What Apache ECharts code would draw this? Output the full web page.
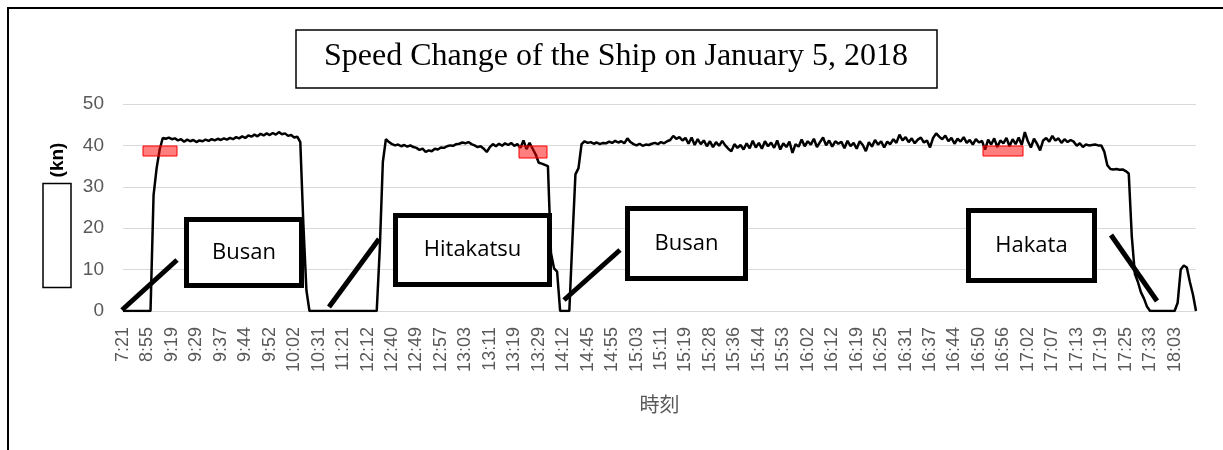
<!DOCTYPE html>
<html>
<head>
<meta charset="utf-8">
<script src="https://cdn.jsdelivr.net/npm/echarts@6/dist/echarts.min.js"></script>
<style>
  html, body { margin: 0; padding: 0; background: #fff; }
  #chart { width: 1223px; height: 450px; }
</style>
</head>
<body>
<div id="chart"></div>
<script>
// tick labels shown on the time axis (one every 8 samples)
const tickLabels = [
  "7:21", "8:55", "9:19", "9:29", "9:37", "9:44", "9:52", "10:02",
  "10:31", "11:21", "12:12", "12:40", "12:49", "12:57", "13:03", "13:11",
  "13:19", "13:29", "14:12", "14:45", "14:55", "15:03", "15:11", "15:19",
  "15:28", "15:36", "15:44", "15:53", "16:02", "16:12", "16:19", "16:25",
  "16:31", "16:37", "16:44", "16:50", "16:56", "17:02", "17:07", "17:13",
  "17:19", "17:25", "17:33", "18:03"
];

// ship speed (kn), 8 samples per tick label
const speed = [
  0, 0, 0, 0, 0, 0, 0, 0,
  0, 0, 28, 34.5, 39, 41.8, 41.6, 41.9,
  41.5, 41.7, 41.2, 41.5, 40.9, 41.4, 41.0, 41.3,
  40.8, 41.2, 41.0, 41.4, 41.1, 41.5, 41.2, 41.6,
  41.3, 41.7, 41.4, 41.8, 41.5, 42.0, 41.7, 42.2,
  41.8, 42.4, 42.1, 42.6, 42.2, 42.8, 42.4, 42.9,
  42.5, 43.0, 42.6, 43.2, 42.7, 42.9, 42.3, 42.5,
  41.9, 42.1, 40.8, 21, 5, 0, 0, 0,
  0, 0, 0, 0, 0, 0, 0, 0,
  0, 0, 0, 0, 0, 0, 0, 0,
  0, 0, 0, 0, 15, 36, 41.5, 40.8,
  40.3, 40.0, 40.2, 39.8, 40.1, 39.7, 40.0, 39.6,
  39.4, 38.9, 39.2, 38.4, 38.8, 38.6, 39.2, 39.0,
  39.5, 39.4, 39.8, 40.0, 39.9, 40.3, 40.4, 40.7,
  40.5, 40.8, 40.3, 40.0, 39.6, 39.8, 39.2, 38.4,
  39.6, 40.3, 39.8, 40.4, 39.9, 40.5, 40.1, 40.6,
  39.9, 40.3, 39.4, 41.2, 39.1, 40.6, 39.2, 37.8,
  35.8, 35.6, 35.3, 35.0, 14, 10.3, 9.5, 0,
  0, 0, 0, 17, 33, 34.5, 40.3, 41.0,
  40.6, 40.8, 40.4, 40.7, 40.3, 40.6, 40.5, 40.9,
  40.6, 41.1, 40.7, 41.0, 40.5, 41.7, 40.8, 40.3,
  40.0, 40.4, 39.9, 40.2, 40.1, 40.4, 40.6, 40.3,
  40.8, 40.5, 41.0, 41.3, 42.3, 41.6, 42.0, 41.2,
  41.8, 40.4, 41.9, 40.1, 41.5, 40.3, 41.2, 39.8,
  41.0, 39.6, 40.8, 39.9, 41.1, 40.0, 39.2, 38.6,
  40.3, 39.4, 40.1, 39.0, 40.5, 39.3, 41.1, 39.5,
  40.6, 39.2, 41.0, 39.8, 40.7, 39.4, 41.2, 39.0,
  40.5, 39.6, 40.9, 38.2, 40.3, 39.7, 41.4, 39.8,
  41.0, 40.2, 41.6, 39.6, 40.8, 41.9, 40.0, 41.2,
  39.7, 41.0, 40.4, 40.9, 39.3, 41.1, 39.8, 40.6,
  39.2, 41.0, 40.1, 38.6, 40.8, 39.7, 41.3, 40.2,
  41.0, 39.5, 40.9, 40.3, 41.5, 40.6, 42.6, 41.2,
  42.0, 40.8, 41.7, 40.5, 41.4, 41.9, 40.7, 41.2,
  39.5, 41.8, 42.9, 42.1, 41.5, 42.4, 41.0, 41.8,
  40.4, 41.6, 40.9, 42.0, 40.6, 41.3, 40.2, 41.5,
  40.7, 41.1, 39.0, 41.4, 40.2, 41.7, 39.6, 41.2,
  40.5, 41.8, 39.8, 41.5, 40.3, 41.9, 40.1, 43.2,
  41.0, 39.5, 41.6, 40.4, 38.8, 41.2, 41.8, 40.9,
  42.3, 41.2, 41.7, 40.6, 41.5, 40.8, 41.3, 40.9,
  39.9, 40.5, 39.6, 40.2, 40.0, 40.1, 40.2, 40.0,
  40.0, 38.5, 35.2, 34.3, 34.2, 34.3, 34.1, 34.2,
  33.8, 33.2, 18, 9, 7, 4.5, 3, 1,
  0, 0, 0, 0, 0, 0, 0, 0,
  0, 2, 10, 11, 10.5, 7, 4, 0
];

const perTick = 8;
const categories = speed.map((v, i) => (i % perTick === 0 ? tickLabels[i / perTick] : ""));

const title = "Speed Change of the Ship on January 5, 2018";
const yName = "(kn)";
const xName = "時刻";

const chart = echarts.init(document.getElementById("chart"));

function labelBox(x, y, w, h, text) {
  return [
    {
      type: "rect",
      shape: { x: x, y: y, width: w, height: h },
      style: { fill: "#fff", stroke: "#000", lineWidth: 5 },
      z: 50
    },
    {
      type: "text",
      x: x + w / 2,
      y: y + h / 2,
      style: {
        text: text,
        font: '22px "Open Sans", sans-serif',
        fill: "#000",
        align: "center",
        verticalAlign: "middle"
      },
      z: 51
    }
  ];
}

function callout(x1, y1, x2, y2) {
  return {
    type: "line",
    shape: { x1: x1, y1: y1, x2: x2, y2: y2 },
    style: { stroke: "#000", lineWidth: 5 },
    z: 52
  };
}

function redMark(x, y, w, h) {
  return {
    type: "rect",
    shape: { x: x, y: y, width: w, height: h },
    style: { fill: "rgba(255,0,0,0.5)", stroke: "#ff0000", lineWidth: 1 },
    z: 60
  };
}

const option = {
  animation: false,
  backgroundColor: "#fff",
  grid: {
    left: 123,
    right: 27,
    top: 104,
    bottom: 139,
    containLabel: false,
    outerBoundsMode: "none"
  },
  xAxis: {
    type: "category",
    data: categories,
    boundaryGap: false,
    name: xName,
    nameLocation: "middle",
    nameGap: 83,
    nameTextStyle: {
      fontSize: 20,
      color: "#595959",
      fontFamily: '"Noto Sans CJK JP", sans-serif'
    },
    axisLine: { lineStyle: { color: "#d9d9d9", width: 1 } },
    axisTick: { show: false },
    axisLabel: {
      interval: perTick - 1,
      rotate: 90,
      margin: 16,
      fontSize: 18,
      color: "#595959",
      fontFamily: '"Liberation Sans", Arial, sans-serif'
    },
    splitLine: { show: false }
  },
  yAxis: {
    type: "value",
    min: 0,
    max: 50,
    interval: 10,
    axisLine: { show: false },
    axisTick: { show: false },
    axisLabel: {
      margin: 19,
      fontSize: 19,
      color: "#595959",
      fontFamily: '"Liberation Sans", Arial, sans-serif'
    },
    splitLine: { lineStyle: { color: "#d9d9d9", width: 1 } }
  },
  series: [
    {
      type: "line",
      data: speed,
      showSymbol: false,
      lineStyle: { color: "#000", width: 2.5 },
      z: 3
    }
  ],
  graphic: [
    {
      type: "rect",
      shape: { x: 8, y: 8, width: 1400, height: 600 },
      style: { fill: null, stroke: "#000", lineWidth: 2 },
      silent: true
    },
    {
      type: "rect",
      shape: { x: 296, y: 30, width: 641, height: 58 },
      style: { fill: "#fff", stroke: "#000", lineWidth: 1.5 }
    },
    {
      type: "text",
      x: 616,
      y: 57,
      style: {
        text: title,
        font: '32px "Liberation Serif", "Times New Roman", serif',
        fill: "#000",
        align: "center",
        verticalAlign: "middle"
      }
    },
    {
      type: "rect",
      shape: { x: 43, y: 183.5, width: 28, height: 104 },
      style: { fill: "#fff", stroke: "#000", lineWidth: 1.5 }
    },
    {
      type: "text",
      x: 58,
      y: 160,
      rotation: Math.PI / 2,
      style: {
        text: yName,
        font: 'bold 19px "Liberation Sans", Arial, sans-serif',
        fill: "#000",
        align: "center",
        verticalAlign: "middle"
      }
    },
    ...labelBox(186.5, 219.5, 115, 66, "Busan"),
    ...labelBox(395.5, 215.5, 154, 69, "Hitakatsu"),
    ...labelBox(627.5, 208.5, 118, 70, "Busan"),
    ...labelBox(968.5, 210.5, 126, 70, "Hakata"),
    callout(122, 310, 177, 260),
    callout(329, 307, 379, 239),
    callout(564, 300, 620, 250),
    callout(1111, 235, 1157, 301),
    redMark(143, 146, 34, 10),
    redMark(519, 146, 28, 12),
    redMark(983, 146, 40, 10)
  ]
};

chart.setOption(option);
</script>
</body>
</html>
